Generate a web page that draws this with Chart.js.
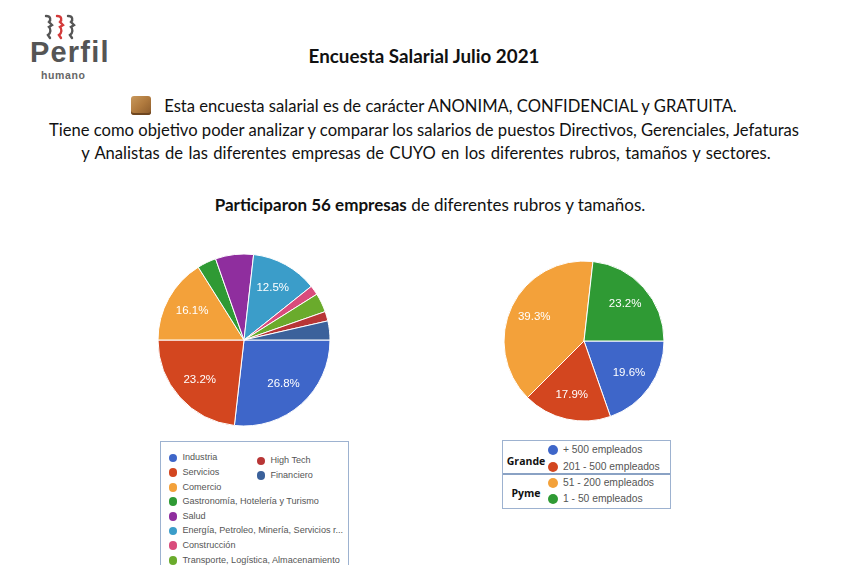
<!DOCTYPE html>
<html>
<head>
<meta charset="utf-8">
<script src="https://cdn.jsdelivr.net/npm/chart.js@4/dist/chart.umd.min.js"></script>
<style>
  html,body{margin:0;padding:0;background:#fff;}
  body{width:860px;height:565px;position:relative;overflow:hidden;font-family:Lato,"Open Sans",sans-serif;color:#111;}
  .abs{position:absolute;}
  .line{position:absolute;left:0;width:848px;text-align:center;font-size:16.6px;white-space:nowrap;line-height:20px;}
  .box{position:absolute;border:1.5px solid #9db2d0;box-sizing:border-box;background:#fff;}
  .lg{position:absolute;font-family:Arial,"Liberation Sans",sans-serif;color:#555;white-space:nowrap;line-height:1.2;}
  .dot{position:absolute;border-radius:50%;}
  .pkg{display:inline-block;width:20px;height:19px;vertical-align:-3px;margin-right:13px;border-radius:3px;
       background:linear-gradient(135deg,#c9995c 0%,#b07a3e 50%,#8a5a2b 100%);box-shadow:inset 0 -2px 0 #6e4620;}
</style>
</head>
<body>
<!-- logo -->
<svg class="abs" style="left:42px;top:14px" width="40" height="26" viewBox="0 0 40 26">
  <path d="M4 2 C9 2 9 6 7 8 L10 11 L7 13 C9 15 9 19 6 21 L8 24" fill="none" stroke="#555" stroke-width="2.4" stroke-linecap="round"/>
  <path d="M15 2 C20 2 20 6 18 8 L21 11 L18 13 C20 15 20 19 17 21 L19 24" fill="none" stroke="#d33a3a" stroke-width="2.4" stroke-linecap="round"/>
  <path d="M26 2 C31 2 31 6 29 8 L32 11 L29 13 C31 15 31 19 28 21 L30 24" fill="none" stroke="#555" stroke-width="2.4" stroke-linecap="round"/>
</svg>
<div class="abs" style="left:30px;top:38.4px;font-family:'Liberation Sans',Arial,sans-serif;font-weight:700;font-size:29px;line-height:29px;color:#555;letter-spacing:1.2px;">Perfil</div>
<div class="abs" style="left:41px;top:70.3px;font-family:'Liberation Sans',Arial,sans-serif;font-weight:700;font-size:10.5px;line-height:10.5px;color:#666;letter-spacing:0.6px;">humano</div>

<div class="line" style="top:45px;font-weight:700;font-size:18.8px;line-height:22px;">Encuesta Salarial Julio 2021</div>
<div class="line" style="top:96px;left:10px;"><span class="pkg"></span>Esta encuesta salarial es de carácter ANONIMA, CONFIDENCIAL y GRATUITA.</div>
<div class="line" style="top:120px;">Tiene como objetivo poder analizar y comparar los salarios de puestos Directivos, Gerenciales, Jefaturas</div>
<div class="line" style="top:143px;left:2px;word-spacing:1.2px;">y Analistas de las diferentes empresas de CUYO en los diferentes rubros, tamaños y sectores.</div>
<div class="line" style="top:195px;left:6px;font-size:17px;"><b>Participaron 56 empresas</b> de diferentes rubros y tamaños.</div>

<canvas id="c1" class="abs" style="left:154px;top:250px;width:180px;height:180px"></canvas>
<canvas id="c2" class="abs" style="left:494px;top:251px;width:180px;height:180px"></canvas>

<div id="leg1" class="box" style="left:160px;top:441px;width:189px;height:140px;"></div>
<div id="leg2" class="box" style="left:502px;top:440px;width:169px;height:69px;"></div>

<script>
// ---- data ----
const rubros = ["Industria","Servicios","Comercio","Gastronomía, Hotelería y Turismo","Salud","Energía, Petroleo, Minería, Servicios r...","Construcción","Transporte, Logística, Almacenamiento","High Tech","Financiero"];
const empresasPorRubro = [15,13,9,2,4,7,1,2,1,2];
const coloresRubro = ["#3e66c9","#d3461f","#f3a13a","#2f9a34","#8f2e9e","#3b9dc9","#d94c7c","#6aab2c","#b83636","#3b619b"];

const tamanos = ["+ 500 empleados","201 - 500 empleados","51 - 200 empleados","1 - 50 empleados"];
const empresasPorTamano = [11,10,22,13];
const coloresTamano = ["#3e66c9","#d3461f","#f3a13a","#2f9a34"];
const gruposTamano = ["Grande","Pyme"];

// ---- percentage labels plugin ----
const pctLabels = {
  id:'pctLabels',
  afterDatasetsDraw(chart){
    const ctx = chart.ctx;
    const ds = chart.data.datasets[0];
    const total = ds.data.reduce((a,b)=>a+b,0);
    const meta = chart.getDatasetMeta(0);
    ctx.save();
    ctx.fillStyle = '#fff';
    ctx.font = '11.5px Arial, "Liberation Sans", sans-serif';
    ctx.textAlign = 'center';
    ctx.textBaseline = 'middle';
    meta.data.forEach((arc,i)=>{
      const p = ds.data[i]/total;
      if (p < 0.1) return;
      const a = (arc.startAngle + arc.endAngle)/2;
      const r = arc.outerRadius*0.69;
      ctx.fillText((p*100).toFixed(1)+'%', arc.x+Math.cos(a)*r, arc.y+Math.sin(a)*r);
    });
    ctx.restore();
  }
};

function makePie(id, labels, data, colors, radius){
  return new Chart(document.getElementById(id), {
    type:'pie',
    data:{labels, datasets:[{data, backgroundColor:colors, borderColor:'#fff', borderWidth:1, hoverOffset:0}]},
    options:{
      responsive:false, animation:false, rotation:90, radius:radius,
      layout:{padding:0},
      plugins:{legend:{display:false}, tooltip:{enabled:false}}
    },
    plugins:[pctLabels]
  });
}
function sizeCanvas(id){ const c=document.getElementById(id); c.width=180; c.height=180; }
sizeCanvas('c1'); sizeCanvas('c2');
makePie('c1', rubros, empresasPorRubro, coloresRubro, 86);
makePie('c2', tamanos, empresasPorTamano, coloresTamano, 80);

// ---- legends ----
function addItem(parent, x, y, color, text, fs, dr){
  const d=document.createElement('div'); d.className='dot';
  d.style.cssText += `left:${x-dr}px;top:${y-dr}px;width:${2*dr}px;height:${2*dr}px;background:${color};`;
  parent.appendChild(d);
  const t=document.createElement('div'); t.className='lg'; t.textContent=text;
  t.style.cssText += `left:${x+dr+5}px;top:${y-fs*0.62}px;font-size:${fs}px;`;
  parent.appendChild(t);
}
const leg1=document.getElementById('leg1');
// left column (first 8), right column (last 2)
for(let i=0;i<8;i++) addItem(leg1, 12, 16+i*14.6, coloresRubro[i], rubros[i], 9.1, 4.4);
for(let i=8;i<10;i++) addItem(leg1, 100, 19+(i-8)*14.3, coloresRubro[i], rubros[i], 9.1, 4.4);

const leg2=document.getElementById('leg2');
const rows2=[9,26,42,58];
tamanos.forEach((t,i)=>addItem(leg2, 50, rows2[i], coloresTamano[i], t, 10.3, 5));
const sep=document.createElement('div');
sep.style.cssText='position:absolute;left:0;right:0;top:32px;height:2px;background:#8aa2c4;';
leg2.appendChild(sep);
gruposTamano.forEach((g,i)=>{
  const d=document.createElement('div');
  d.textContent=g;
  d.style.cssText=`position:absolute;left:0;width:46px;text-align:center;top:${i?45:13}px;font-family:'Open Sans',sans-serif;font-weight:700;font-size:10.5px;color:#111;`;
  leg2.appendChild(d);
});
</script>
</body>
</html>
